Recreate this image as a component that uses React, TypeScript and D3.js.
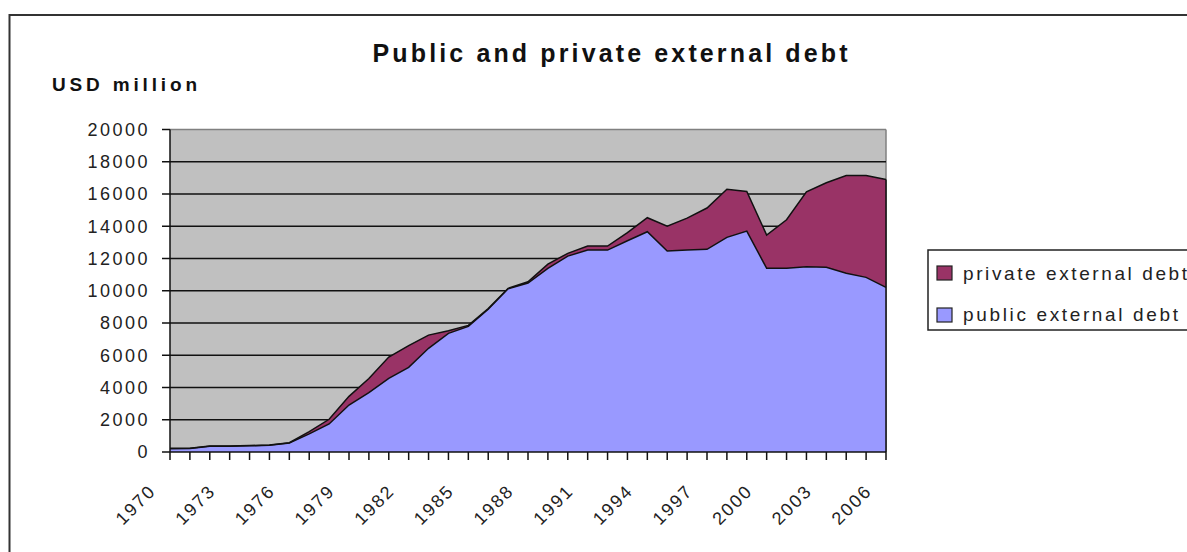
import React from "react";
import * as d3 from "d3";

const years: number[] = d3.range(1970, 2007);
const publicDebt: number[] = [
  200, 210, 350, 350, 380, 420, 560, 1120, 1740, 2910,
  3680, 4570, 5250, 6430, 7360, 7790, 8850, 10120, 10480, 11390,
  12150, 12520, 12520, 13100, 13660, 12460, 12520, 12570, 13310, 13700,
  11390, 11390, 11490, 11450, 11080, 10830, 10210,
];
const totalDebt: number[] = [
  230, 230, 370, 370, 400, 440, 580, 1260, 2030, 3450,
  4560, 5890, 6600, 7250, 7520, 7850, 8900, 10150, 10560, 11650,
  12320, 12770, 12770, 13600, 14530, 14010, 14500, 15130, 16290, 16160,
  13450, 14400, 16140, 16700, 17140, 17140, 16900,
];
const privateDebt: number[] = totalDebt.map((t, i) => Math.max(0, t - publicDebt[i]));
const yTicks: number[] = d3.range(0, 20001, 2000);
const xLabelYears: number[] = d3.range(1970, 2007, 3);
const seriesNames = ["public external debt", "private external debt"];
const seriesColors = ["#9999ff", "#993366"];

export default function App() {
  const W = 1187, H = 552;
  const left = 170, right = 886, top = 129.5, bottom = 452;
  const x = d3.scaleLinear().domain([1970, 2006]).range([left, right]);
  const y = d3.scaleLinear().domain([0, 20000]).range([bottom, top]);

  const rows = years.map((yr, i) => ({ year: yr, pub: publicDebt[i], priv: privateDebt[i] }));
  const stack = d3.stack<any>().keys(["pub", "priv"]);
  const stacked = stack(rows);
  const area = d3.area<any>()
    .x((d) => x(d.data.year))
    .y0((d) => y(d[0]))
    .y1((d) => y(d[1]));
  const line = d3.line<any>().x((d) => x(d.data.year)).y((d) => y(d[1]));

  const font = "'Liberation Sans', Arial, sans-serif";

  return (
    <svg width={W} height={H} style={{ position: "absolute", left: 0, top: 0, background: "#fff" }}>
      <rect x={0} y={0} width={W} height={H} fill="#fff" />
      <rect x={9.5} y={15} width={1200} height={560} fill="none" stroke="#333" strokeWidth={2} />
      <text x={610} y={61.5} textAnchor="middle" fontFamily={font} fontWeight="bold" fontSize={25}
        textLength={475} lengthAdjust="spacing" fill="#111">Public and private external debt</text>
      <text x={52} y={91} fontFamily={font} fontWeight="bold" fontSize={19}
        textLength={145} lengthAdjust="spacing" fill="#111">USD million</text>

      <rect x={left} y={top} width={right - left} height={bottom - top} fill="#c0c0c0" />
      <line x1={left} x2={right} y1={top} y2={top} stroke="#808080" strokeWidth={1.5} />
      <line x1={right} x2={right} y1={top} y2={bottom} stroke="#808080" strokeWidth={1.5} />
      {yTicks.filter((t) => t > 0 && t < 20000).map((t) => (
        <line key={t} x1={left} x2={right} y1={y(t)} y2={y(t)} stroke="#111" strokeWidth={1.5} />
      ))}

      {stacked.map((s, k) => (
        <path key={k} d={area(s as any) || ""} fill={seriesColors[k]} />
      ))}
      {stacked.map((s, k) => (
        <path key={"l" + k} d={line(s as any) || ""} fill="none" stroke="#111" strokeWidth={1.5} />
      ))}
      <line x1={right} x2={right} y1={y(totalDebt[totalDebt.length - 1])} y2={bottom} stroke="#111" strokeWidth={1.5} />

      <line x1={left} x2={left} y1={top} y2={bottom} stroke="#111" strokeWidth={1.5} />
      <line x1={left} x2={right} y1={bottom} y2={bottom} stroke="#111" strokeWidth={1.5} />
      {yTicks.map((t) => (
        <g key={t}>
          <line x1={left - 8} x2={left} y1={y(t)} y2={y(t)} stroke="#111" strokeWidth={1.5} />
          <text x={150} y={y(t)} dy="0.36em" textAnchor="end" fontFamily={font} fontSize={18}
            letterSpacing={2.5} fill="#222">{t}</text>
        </g>
      ))}
      {years.map((yr) => (
        <line key={yr} x1={x(yr)} x2={x(yr)} y1={bottom} y2={bottom + 8} stroke="#111" strokeWidth={1.5} />
      ))}
      {xLabelYears.map((yr) => (
        <text key={yr} transform={`translate(${x(yr) - 13},${492}) rotate(-45)`} textAnchor="end"
          fontFamily={font} fontSize={18} letterSpacing={2} fill="#222">{yr}</text>
      ))}

      <rect x={928} y={250} width={300} height={80} fill="#fff" stroke="#222" strokeWidth={1.5} />
      {[1, 0].map((k, j) => (
        <g key={k}>
          <rect x={937} y={266 + j * 42} width={15} height={14} fill={seriesColors[k]} stroke="#222" strokeWidth={1.2} />
          <text x={963} y={280 + j * 41} fontFamily={font} fontSize={19}
            textLength={k === 1 ? 224 : 215} lengthAdjust="spacing" fill="#222">{seriesNames[k]}</text>
        </g>
      ))}
    </svg>
  );
}
